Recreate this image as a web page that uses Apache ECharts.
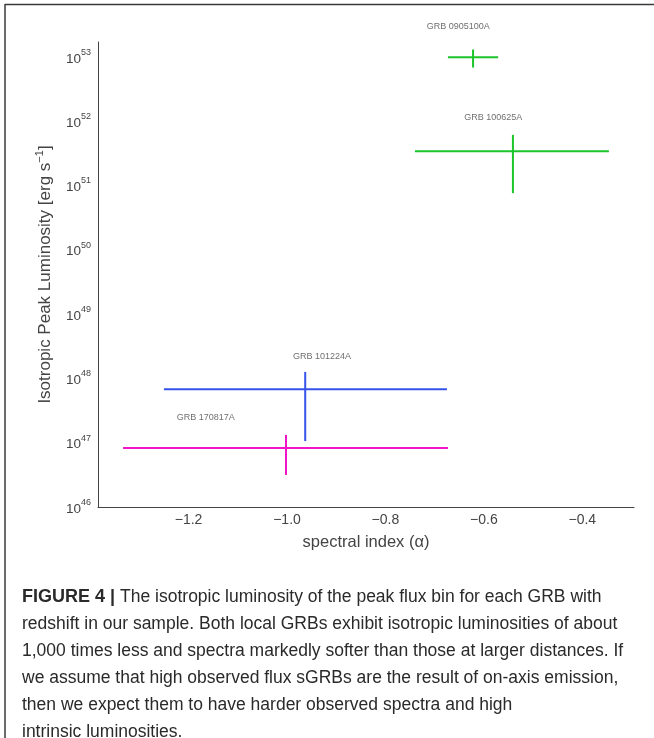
<!DOCTYPE html>
<html>
<head>
<meta charset="utf-8">
<script src="https://cdn.jsdelivr.net/npm/echarts@6/dist/echarts.min.js"></script>
<style>
html,body{margin:0;padding:0;background:#fff;}
#chart{width:654px;height:738px;}
</style>
</head>
<body>
<div id="chart"></div>
<script>
// ---- data ----
const grbNames = ['GRB 0905100A', 'GRB 100625A', 'GRB 101224A', 'GRB 170817A'];
const alphaVal = [-0.622, -0.541, -0.963, -1.002];
const alphaLow = [-0.673, -0.740, -1.250, -1.333];
const alphaHigh = [-0.571, -0.346, -0.675, -0.673];
const lumVal = [9.8e52, 3.4e51, 6.8e47, 8.3e46];
const lumLow = [6.8e52, 7.6e50, 1.06e47, 3.15e46];
const lumHigh = [1.3e53, 6.1e51, 1.26e48, 1.32e47];
const labelAlpha = [-0.652, -0.581, -0.929, -1.165];
const labelLum = [2.92e53, 1.12e52, 2.15e48, 2.42e47];
const grbColors = ['#1cc42c', '#1cc42c', '#3553e8', '#f214c6'];
const yTickExponents = [46, 47, 48, 49, 50, 51, 52, 53];
const xTicks = [-1.2, -1.0, -0.8, -0.6, -0.4];

const captionLines = [
  ['FIGURE 4 | ', 'The isotropic luminosity of the peak flux bin for each GRB with'],
  ['', 'redshift in our sample. Both local GRBs exhibit isotropic luminosities of about'],
  ['', '1,000 times less and spectra markedly softer than those at larger distances. If'],
  ['', 'we assume that high observed flux sGRBs are the result of on-axis emission,'],
  ['', 'then we expect them to have harder observed spectra and high'],
  ['', 'intrinsic luminosities.']
];

const FONT = '"Liberation Sans", Arial, Helvetica, sans-serif';
const lg = Math.log10;

const barData = grbNames.map((n, i) => [alphaVal[i], lg(lumVal[i]), alphaLow[i], alphaHigh[i], lg(lumLow[i]), lg(lumHigh[i]), i]);
const labelData = grbNames.map((n, i) => ({ name: n, value: [labelAlpha[i], lg(labelLum[i])] }));

const chart = echarts.init(document.getElementById('chart'), null, { renderer: 'canvas' });

const graphics = [
  { type: 'line', shape: { x1: 5, y1: 4.5, x2: 654, y2: 4.5 }, style: { stroke: '#3a3a3a', lineWidth: 1.5 } },
  { type: 'line', shape: { x1: 5, y1: 4, x2: 5, y2: 738 }, style: { stroke: '#3a3a3a', lineWidth: 1.5 } }
];
captionLines.forEach((ln, i) => {
  graphics.push({
    type: 'text',
    left: 22,
    top: 588 + i * 27,
    style: {
      text: (ln[0] ? '{b|' + ln[0] + '}' : '') + '{n|' + ln[1] + '}',
      rich: {
        b: { fontFamily: FONT, fontSize: 18, fontWeight: 'bold', fill: '#2a2a2a' },
        n: { fontFamily: FONT, fontSize: 17.5, fill: '#2a2a2a' }
      }
    }
  });
});

const option = {
  animation: false,
  backgroundColor: '#fff',
  grid: { left: 98, right: 20, top: 42, bottom: 231, containLabel: false },
  xAxis: {
    type: 'value',
    min: -1.384,
    max: -0.295,
    splitNumber: 5,
    name: 'spectral index (\u03b1)',
    nameLocation: 'middle',
    nameGap: 27,
    nameTextStyle: { fontFamily: FONT, fontSize: 16.5, color: '#444' },
    axisLine: { show: true, onZero: false, lineStyle: { color: '#444', width: 1 } },
    axisTick: { show: false },
    splitLine: { show: false },
    axisLabel: {
      showMinLabel: false, showMaxLabel: false,
      margin: 6,
      fontFamily: FONT, fontSize: 14, color: '#444',
      formatter: function (v) {
        const t = xTicks.find(x => Math.abs(x - v) < 1e-6);
        if (t === undefined) return '';
        return '\u2212' + Math.abs(t).toFixed(1);
      }
    }
  },
  yAxis: {
    type: 'value',
    min: 46,
    max: 53.23,
    interval: 1,
    name: '{n|Isotropic Peak Luminosity [erg s}{s|\u22121}{n|]}',
    nameLocation: 'middle',
    nameGap: 42,
    nameTextStyle: {
      rich: {
        n: { fontFamily: FONT, fontSize: 17, color: '#444', lineHeight: 22, verticalAlign: 'middle' },
        s: { fontFamily: FONT, fontSize: 11, color: '#444', lineHeight: 22, verticalAlign: 'top' }
      }
    },
    axisLine: { show: true, onZero: false, lineStyle: { color: '#444', width: 1 } },
    axisTick: { show: false },
    splitLine: { show: false },
    axisLabel: {
      showMaxLabel: false,
      margin: 7,
      formatter: function (v) {
        const e = yTickExponents.find(x => Math.abs(x - v) < 1e-6);
        if (e === undefined) return '';
        return '{b|10}{s|' + e + '}';
      },
      rich: {
        b: { fontFamily: FONT, fontSize: 13.5, color: '#444', lineHeight: 18, verticalAlign: 'bottom' },
        s: { fontFamily: FONT, fontSize: 9, color: '#444', lineHeight: 18, verticalAlign: 'top' }
      }
    }
  },
  series: [
    {
      type: 'custom',
      clip: false,
      data: barData,
      encode: { x: [0, 2, 3], y: [1, 4, 5] },
      renderItem: function (params, api) {
        const c = api.coord([api.value(0), api.value(1)]);
        const l = api.coord([api.value(2), api.value(1)]);
        const r = api.coord([api.value(3), api.value(1)]);
        const lo = api.coord([api.value(0), api.value(4)]);
        const hi = api.coord([api.value(0), api.value(5)]);
        const col = grbColors[api.value(6)];
        const st = { stroke: col, lineWidth: 2 };
        return {
          type: 'group',
          children: [
            { type: 'line', shape: { x1: l[0], y1: l[1], x2: r[0], y2: r[1] }, style: st },
            { type: 'line', shape: { x1: c[0], y1: hi[1], x2: c[0], y2: lo[1] }, style: st }
          ]
        };
      }
    },
    {
      type: 'scatter',
      clip: false,
      symbolSize: 0,
      silent: true,
      data: labelData,
      label: {
        show: true,
        position: 'inside',
        formatter: '{b}',
        fontFamily: FONT,
        fontSize: 9,
        color: '#4a4a4a'
      }
    }
  ],
  graphic: graphics
};
chart.setOption(option);
</script>
</body>
</html>
